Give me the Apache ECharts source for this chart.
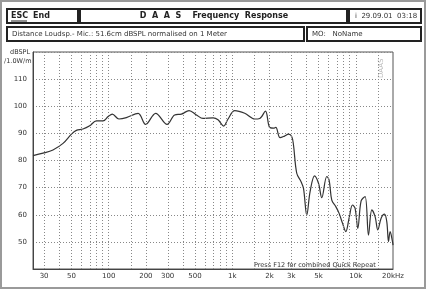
<!DOCTYPE html>
<html><head><meta charset="utf-8">
<script src="https://cdn.jsdelivr.net/npm/echarts@6/dist/echarts.min.js"></script>
<style>html,body{margin:0;padding:0;background:#fff}#c{width:428px;height:294px}</style>
</head><body><div id="c"></div>
<script>
// Frequency (Hz) and level (dB SPL)
const freqs = [24.4,29.4,35.4,42.7,49.9,54.7,61.9,70.2,79.5,90,99,107,121,139,173,199,240,297,342,388,447,513,580,699,767,853,925,1048,1262,1521,1670,1857,2000,2157,2251,2438,2648,2851,3034,3131,3327,3606,3773,4010,4266,4634,4989,5306,5822,6080,6393,6888,7328,7802,8298,8830,9400,9862,10380,11040,11890,12670,13480,14330,15070,16030,17070,17820,18390,18950,19820,20000];
const spl = [81.8,82.7,83.9,86.3,89.7,91.1,91.6,92.8,94.6,94.6,96.2,97.1,95.3,95.8,97.4,93.3,97.4,93.3,96.8,97.1,98.4,96.8,95.5,95.7,95.0,92.7,95.3,98.4,97.4,95.3,95.5,98.2,92.3,91.9,92.2,88.4,89.0,89.7,88.8,85.7,75.3,72.2,69.7,59.9,68.5,74.3,71.6,66.3,74.1,72.8,65.4,63.0,60.5,56.9,53.8,58.8,63.6,62.4,55.0,65.1,66.7,52.5,61.8,59.3,54.4,58.7,60.2,57.4,50.1,53.8,50.1,48.8];
const xTickFreqs = [30,50,100,200,300,500,1000,2000,3000,5000,10000,20000];
const gridFreqs = [30,40,50,60,70,80,90,100,150,200,300,400,500,600,700,800,900,1000,1500,2000,3000,4000,5000,6000,7000,8000,9000,10000,15000];
const yTicks = [50,60,70,80,90,100,110];

const FONT = 'DejaVu Sans';
const chart = echarts.init(document.getElementById('c'), null, {renderer:'canvas'});

function fmtFreq(v){
  const f = Math.pow(10, v);
  let best = xTickFreqs[0];
  xTickFreqs.forEach(t => { if (Math.abs(Math.log10(t) - v) < Math.abs(Math.log10(best) - v)) best = t; });
  if (best === 20000) return '20kHz';
  return best >= 1000 ? (best/1000) + 'k' : String(best);
}

const boxStyle = {fill:'none', stroke:'#222', lineWidth:2};
const txt = (x,y,text,opt) => Object.assign({type:'text', x:x, y:y, style:Object.assign({text:text, fill:'#333', font:'7px ' + FONT, textVerticalAlign:'middle'}, opt||{})});

chart.setOption({
  animation:false,
  backgroundColor:'#fff',
  grid:{left:33, top:52, right:35, bottom:25, show:true, borderColor:'#555', borderWidth:1},
  xAxis:{
    type:'value', min:Math.log10(24.4), max:Math.log10(20000),
    axisLine:{show:true, lineStyle:{color:'#444', width:1}},
    axisTick:{show:false},
    splitLine:{show:false},
    axisLabel:{customValues:xTickFreqs.map(Math.log10), formatter:fmtFreq, color:'#333', fontSize:7, fontFamily:FONT, margin:4}
  },
  yAxis:{
    type:'value', min:40, max:120, interval:10,
    axisLine:{show:true, lineStyle:{color:'#444', width:1}},
    axisTick:{show:false},
    splitLine:{show:true, lineStyle:{color:'#888', type:[1,2], width:1}},
    axisLabel:{formatter:v => yTicks.indexOf(v) >= 0 ? String(v) : '', color:'#333', fontSize:7, fontFamily:FONT, margin:6}
  },
  series:[
    {
      type:'line', silent:true, symbol:'none', smooth:0.35,
      data:freqs.map((f,i) => [Math.log10(f), spl[i]]),
      lineStyle:{color:'#333', width:1.2},
      markLine:{
        silent:true, symbol:'none', label:{show:false},
        lineStyle:{color:'#888', type:[1,2], width:1},
        data:gridFreqs.map(f => ({xAxis:Math.log10(f)}))
      },
      z:3
    }
  ],
  graphic:[
    {type:'rect', shape:{x:1, y:1, width:424, height:287}, style:{fill:'none', stroke:'#9a9a9a', lineWidth:2}},
    {type:'rect', shape:{x:7, y:9, width:71, height:14}, style:boxStyle},
    {type:'rect', shape:{x:80, y:9, width:267, height:14}, style:boxStyle},
    {type:'rect', shape:{x:349, y:9, width:72, height:14}, style:boxStyle},
    {type:'rect', shape:{x:7, y:27, width:297, height:14}, style:boxStyle},
    {type:'rect', shape:{x:307, y:27, width:114, height:14}, style:boxStyle},
    txt(11,16,'ESC',{font:'bold 8px ' + FONT, fill:'#222'}),
    {type:'line', shape:{x1:11, y1:21, x2:27, y2:21}, style:{stroke:'#222', lineWidth:1}},
    txt(33,16,'End',{font:'bold 8px ' + FONT, fill:'#222'}),
    txt(214,16,'D  A  A  S    Frequency  Response',{font:'bold 8px ' + FONT, fill:'#222', textAlign:'center'}),
    txt(355,16,'i  29.09.01  03:18',{fill:'#333'}),
    txt(12,34,'Distance Loudsp.- Mic.: 51.6cm dBSPL normalised on 1 Meter',{fill:'#333'}),
    txt(312,34,'MO:   NoName',{fill:'#333'}),
    txt(10,52,'dBSPL',{fill:'#333', font:'6.5px ' + FONT}),
    txt(4,61,'/1.0W/m',{fill:'#333', font:'6.5px ' + FONT}),
    txt(254,265,'Press F12 for combined Quick Repeat',{fill:'#333', font:'6.5px ' + FONT}),
    {type:'text', x:381, y:78, rotation:Math.PI/2, style:{text:'DAAS', fill:'#bbb', font:'7px ' + FONT, textVerticalAlign:'middle'}}
  ]
});
</script></body></html>
